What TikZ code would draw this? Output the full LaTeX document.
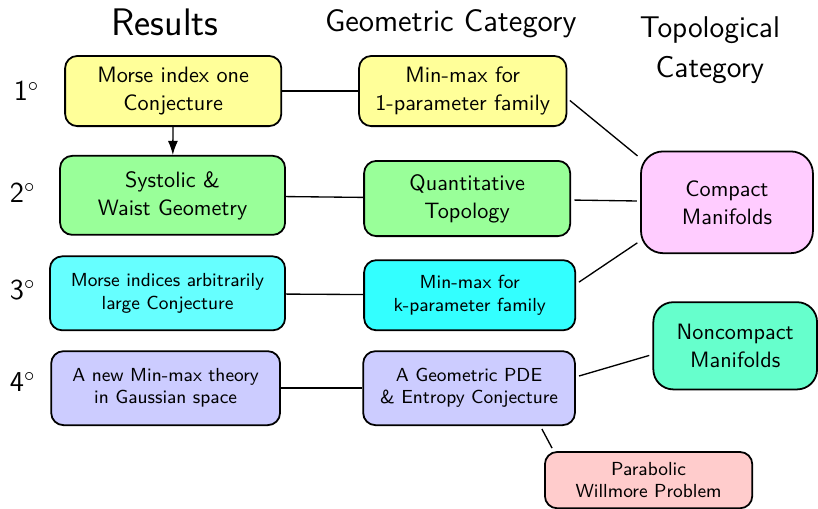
\documentclass[tikz,border=0pt]{standalone}
\usepackage{tikz}
\usetikzlibrary{arrows.meta,positioning,calc}
\renewcommand{\familydefault}{\sfdefault}
\definecolor{onecol}{RGB}{255,255,153}
\definecolor{twocol}{RGB}{153,255,153}
\definecolor{threecol}{RGB}{102,255,255}
\definecolor{threecolb}{RGB}{51,255,255}
\definecolor{fourcol}{RGB}{204,204,255}
\definecolor{compcol}{RGB}{255,204,255}
\definecolor{noncompcol}{RGB}{102,255,204}
\definecolor{paracol}{RGB}{255,204,204}

\begin{document}
\begin{tikzpicture}[
    box/.style={draw, thick, rounded corners=5.5pt, align=center, inner sep=2pt,
                font=\fontsize{10}{12.6}\selectfont},
    sm/.style={font=\fontsize{8.5}{10}\selectfont},
    hd/.style={font=\fontsize{14}{18}\selectfont, align=center},
    num/.style={font=\fontsize{13}{15}\selectfont},
    link/.style={semithick},
    tlink/.style={semithick, shorten <=1.5pt, shorten >=1.5pt}]
\useasboundingbox (0,0) rectangle (12.94,-8.04);
% column heads
\node[font=\LARGE] (hres) at (2.61,-0.35) {Results};
\node[hd] (hgeo) at (7.13,-0.38) {Geometric Category};
\node[hd, font=\fontsize{13.5}{18}\selectfont] (htop) at (11.23,-0.79) {Topological\\Category};
% row numbers
\node[num] (n1) at (0.42,-1.44) {1$^\circ$};
\node[num] (n2) at (0.36,-3.05) {2$^\circ$};
\node[num] (n3) at (0.36,-4.59) {3$^\circ$};
\node[num] (n4) at (0.36,-6.04) {4$^\circ$};
% results
\node[box, fill=onecol, minimum width=3.42cm, minimum height=1.11cm] (b1) at (2.74,-1.44) {Morse index one\\Conjecture};
\node[box, fill=twocol, minimum width=3.56cm, minimum height=1.25cm] (b2) at (2.73,-3.09) {Systolic \&\\Waist Geometry};
\node[box, sm, fill=threecol, minimum width=3.72cm, minimum height=1.17cm] (b3) at (2.65,-4.64) {Morse indices arbitrarily\\large Conjecture};
\node[box, sm, fill=fourcol, minimum width=3.62cm, minimum height=1.17cm] (b4) at (2.62,-6.14) {A new Min-max theory\\in Gaussian space};
% geometric category
\node[box, fill=onecol, minimum width=3.28cm, minimum height=1.11cm] (g1) at (7.32,-1.44) {Min-max for\\1-parameter family};
\node[box, fill=twocol, minimum width=3.26cm, minimum height=1.19cm] (g2) at (7.39,-3.14) {Quantitative\\Topology};
\node[box, sm, fill=threecolb, minimum width=3.34cm, minimum height=1.11cm] (g3) at (7.43,-4.67) {Min-max for\\k-parameter family};
\node[box, sm, fill=fourcol, minimum width=3.35cm, minimum height=1.17cm] (g4) at (7.42,-6.14) {A Geometric PDE\\\& Entropy Conjecture};
% topological category
\node[box, fill=compcol, rounded corners=10pt, minimum width=2.72cm, minimum height=1.61cm] (compact) at (11.50,-3.20) {Compact\\Manifolds};
\node[box, fill=noncompcol, rounded corners=9pt, minimum width=2.59cm, minimum height=1.38cm] (noncompact) at (11.63,-5.47) {Noncompact\\Manifolds};
\node[box, sm, fill=paracol, minimum width=3.28cm, minimum height=0.89cm] (parabolic) at (10.26,-7.595) {Parabolic\\Willmore Problem};
% connectors
\draw[-{Latex[length=6.3pt,width=4.5pt]}, semithick] (b1) -- (b2);
\draw[link] (b1) -- (g1);
\draw[link] (b2) -- (g2);
\draw[link] (b3) -- (g3);
\draw[link] (b4) -- (g4);
\draw[tlink] (g1.-4) -- (compact.153);
\draw[tlink] (g2) -- (compact);
\draw[tlink] (g3.6) -- (compact.204);
\draw[tlink] (g4.6) -- (noncompact.186);
\draw[tlink] (g4.-28) -- (parabolic.163);
\end{tikzpicture}
\end{document}
